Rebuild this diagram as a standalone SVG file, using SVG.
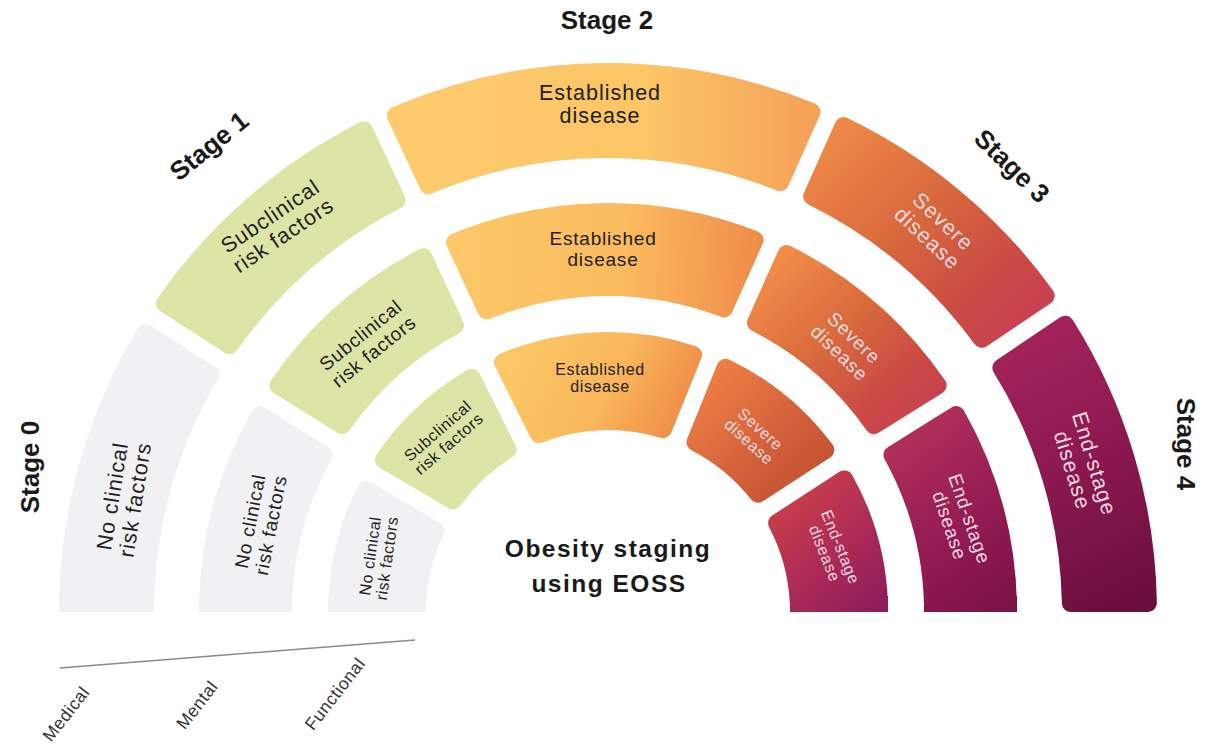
<svg xmlns="http://www.w3.org/2000/svg" width="1212" height="747" viewBox="0 0 1212 747">
<defs>
<linearGradient id="gEstO" gradientUnits="userSpaceOnUse" x1="400" y1="150" x2="815" y2="150"><stop offset="0" stop-color="#FDCB6E"/><stop offset="0.6" stop-color="#FCC566"/><stop offset="1" stop-color="#F5A158"/></linearGradient>
<linearGradient id="gEstM" gradientUnits="userSpaceOnUse" x1="455" y1="270" x2="760" y2="290"><stop offset="0" stop-color="#FCC869"/><stop offset="0.55" stop-color="#FBBB5E"/><stop offset="1" stop-color="#F08B49"/></linearGradient>
<linearGradient id="gEstI" gradientUnits="userSpaceOnUse" x1="520" y1="360" x2="690" y2="440"><stop offset="0" stop-color="#FCC666"/><stop offset="0.5" stop-color="#F9B65A"/><stop offset="1" stop-color="#EE8544"/></linearGradient>
<linearGradient id="gSevO" gradientUnits="userSpaceOnUse" x1="830" y1="120" x2="1040" y2="335"><stop offset="0" stop-color="#F18B48"/><stop offset="0.45" stop-color="#D7673C"/><stop offset="0.75" stop-color="#CB4A45"/><stop offset="1" stop-color="#C83D53"/></linearGradient>
<linearGradient id="gSevM" gradientUnits="userSpaceOnUse" x1="780" y1="260" x2="935" y2="420"><stop offset="0" stop-color="#F18B48"/><stop offset="0.45" stop-color="#D7673C"/><stop offset="0.75" stop-color="#CB4A45"/><stop offset="1" stop-color="#C83D53"/></linearGradient>
<linearGradient id="gSevI" gradientUnits="userSpaceOnUse" x1="700" y1="370" x2="820" y2="490"><stop offset="0" stop-color="#F08245"/><stop offset="0.6" stop-color="#D2603A"/><stop offset="1" stop-color="#C4502F"/></linearGradient>
<linearGradient id="gEndO" gradientUnits="userSpaceOnUse" x1="1020" y1="330" x2="1150" y2="600"><stop offset="0" stop-color="#A3245A"/><stop offset="0.5" stop-color="#8B1850"/><stop offset="1" stop-color="#6A0E3C"/></linearGradient>
<linearGradient id="gEndM" gradientUnits="userSpaceOnUse" x1="890" y1="440" x2="1015" y2="605"><stop offset="0" stop-color="#B2305A"/><stop offset="0.5" stop-color="#961C54"/><stop offset="1" stop-color="#7A1247"/></linearGradient>
<linearGradient id="gEndI" gradientUnits="userSpaceOnUse" x1="780" y1="490" x2="880" y2="605"><stop offset="0" stop-color="#CB4248"/><stop offset="0.5" stop-color="#B02C55"/><stop offset="1" stop-color="#8E1D5B"/></linearGradient>
</defs>
<style>
.seg { stroke-width:18; stroke-linejoin:round; }
.nc { fill:#F1F1F4; stroke:#F1F1F4; }
.ncr { fill:#F1F1F4; }
.sc { fill:#DDE5A6; stroke:#DDE5A6; }
text { font-family:"Liberation Sans", Arial, Helvetica, sans-serif; }
.lbl { text-anchor:middle; dominant-baseline:central; }
.dark { fill:#222222; }
.light { fill:#F9DDE3; }
.o { font-size:21.5px; letter-spacing:1px; }
.m { font-size:19px; letter-spacing:0.8px; }
.i { font-size:16px; letter-spacing:0.6px; }
.stage { font-size:26px; font-weight:bold; fill:#1A1A1A; text-anchor:middle; dominant-baseline:central; }
.title { font-size:24.5px; font-weight:bold; fill:#1A1A1A; text-anchor:middle; letter-spacing:1.5px; }
.axis { font-size:17.5px; fill:#333333; text-anchor:middle; dominant-baseline:central; letter-spacing:0.5px; }
</style>
<rect width="1212" height="747" fill="#FFFFFF"/>

<g id="stage-labels">
<text class="stage" transform="translate(30,467) rotate(-90)">Stage 0</text>
<text class="stage" transform="translate(209,146) rotate(-39)">Stage 1</text>
<text class="stage" transform="translate(607,20)">Stage 2</text>
<text class="stage" transform="translate(1012,166) rotate(44)">Stage 3</text>
<text class="stage" transform="translate(1186,444) rotate(90)">Stage 4</text>
</g>

<!-- Outer ring: Medical -->
<g id="outer-stage0">
<path class="seg nc" d="M68.1,603 A540,540 0 0 1 145.8,332.7 L210.4,374.7 A463,463 0 0 0 145.1,603 Z"/>
<rect class="ncr" x="59" y="596" width="95" height="16"/>
<text class="lbl dark o" transform="translate(124,498) rotate(-81)"><tspan x="0" y="-11.5">No clinical</tspan><tspan x="0" y="11.5">risk factors</tspan></text>
</g>
<g id="outer-stage1">
<path class="seg sc" d="M164.9,303.4 A540,540 0 0 1 364.0,130.2 L396.6,200.1 A463,463 0 0 0 229.5,345.3 Z"/>
<text class="lbl dark o" transform="translate(277,226) rotate(-34)"><tspan x="0" y="-11.5">Subclinical</tspan><tspan x="0" y="11.5">risk factors</tspan></text>
</g>
<g id="outer-stage2">
<path class="seg" style="fill:url(#gEstO);stroke:url(#gEstO)" d="M395.8,115.5 A540,540 0 0 1 811.5,111.8 L780.2,182.2 A463,463 0 0 0 428.3,185.3 Z"/>
<text class="lbl dark o" transform="translate(600,104)"><tspan x="0" y="-11.5">Established</tspan><tspan x="0" y="11.5">disease</tspan></text>
</g>
<g id="outer-stage3">
<path class="seg" style="fill:url(#gSevO);stroke:url(#gSevO)" d="M843.5,126.1 A540,540 0 0 1 1045.7,295.7 L981.8,338.8 A463,463 0 0 0 812.2,196.5 Z"/>
<text class="lbl light o" transform="translate(935,230) rotate(43)"><tspan x="0" y="-11.5">Severe</tspan><tspan x="0" y="11.5">disease</tspan></text>
</g>
<g id="outer-stage4">
<path class="seg" style="fill:url(#gEndO);stroke:url(#gEndO)" d="M1065.2,324.7 A540,540 0 0 1 1147.9,603 L1070.9,603 A463,463 0 0 0 1001.4,367.8 Z"/>
<text class="lbl light o" transform="translate(1083,467) rotate(73)"><tspan x="0" y="-11.5">End-stage</tspan><tspan x="0" y="11.5">disease</tspan></text>
</g>

<!-- Middle ring: Mental -->
<g id="middle-stage0">
<path class="seg nc" d="M208.1,603 A400,400 0 0 1 259.8,415.1 L323.5,454.9 A325,325 0 0 0 283.1,603 Z"/>
<rect class="ncr" x="199" y="596" width="93" height="16"/>
<text class="lbl dark m" transform="translate(260,523) rotate(-79)"><tspan x="0" y="-10.5">No clinical</tspan><tspan x="0" y="10.5">risk factors</tspan></text>
</g>
<g id="middle-stage1">
<path class="seg sc" d="M278.4,385.4 A400,400 0 0 1 423.3,257.2 L455.0,325.3 A325,325 0 0 0 342.1,425.2 Z"/>
<text class="lbl dark m" transform="translate(367,343) rotate(-39)"><tspan x="0" y="-10.5">Subclinical</tspan><tspan x="0" y="10.5">risk factors</tspan></text>
</g>
<g id="middle-stage2">
<path class="seg" style="fill:url(#gEstM);stroke:url(#gEstM)" d="M455.0,242.4 A400,400 0 0 1 754.6,239.8 L724.0,308.4 A325,325 0 0 0 486.7,310.5 Z"/>
<text class="lbl dark m" transform="translate(603,248)"><tspan x="0" y="-10.5">Established</tspan><tspan x="0" y="10.5">disease</tspan></text>
</g>
<g id="middle-stage3">
<path class="seg" style="fill:url(#gSevM);stroke:url(#gSevM)" d="M786.5,254.1 A400,400 0 0 1 937.6,385.4 L873.9,425.2 A325,325 0 0 0 756.0,322.7 Z"/>
<text class="lbl light m" transform="translate(847,345) rotate(44)"><tspan x="0" y="-10.5">Severe</tspan><tspan x="0" y="10.5">disease</tspan></text>
</g>
<g id="middle-stage4">
<path class="seg" style="fill:url(#gEndM);stroke:url(#gEndM)" d="M956.2,415.1 A400,400 0 0 1 1007.9,603 L932.9,603 A325,325 0 0 0 892.5,454.9 Z"/>
<rect x="924" y="596" width="93" height="16" style="fill:url(#gEndM)"/>
<text class="lbl light m" transform="translate(960,522) rotate(71)"><tspan x="0" y="-10.5">End-stage</tspan><tspan x="0" y="10.5">disease</tspan></text>
</g>

<!-- Inner ring: Functional -->
<g id="inner-stage0">
<path class="seg nc" d="M337.2,603 A271,271 0 0 1 366.1,489.8 L435.2,530.6 A191,191 0 0 0 417.2,603 Z"/>
<rect class="ncr" x="328" y="596" width="98" height="16"/>
<text class="lbl dark i" transform="translate(378,557) rotate(-82)"><tspan x="0" y="-8.5">No clinical</tspan><tspan x="0" y="8.5">risk factors</tspan></text>
</g>
<g id="inner-stage1">
<path class="seg sc" d="M383.9,459.7 A271,271 0 0 1 471.7,377.8 L507.5,449.6 A191,191 0 0 0 453.0,500.4 Z"/>
<text class="lbl dark i" transform="translate(443,437) rotate(-41)"><tspan x="0" y="-8.5">Subclinical</tspan><tspan x="0" y="8.5">risk factors</tspan></text>
</g>
<g id="inner-stage2">
<path class="seg" style="fill:url(#gEstI);stroke:url(#gEstI)" d="M503.0,362.2 A271,271 0 0 1 693.1,354.7 L663.0,429.1 A191,191 0 0 0 538.8,434.0 Z"/>
<text class="lbl dark i" transform="translate(600,377)"><tspan x="0" y="-8.5">Established</tspan><tspan x="0" y="8.5">disease</tspan></text>
</g>
<g id="inner-stage3">
<path class="seg" style="fill:url(#gSevI);stroke:url(#gSevI)" d="M725.5,367.8 A271,271 0 0 1 825.3,450.0 L758.0,493.7 A191,191 0 0 0 695.5,442.2 Z"/>
<text class="lbl light i" transform="translate(755,435) rotate(42)"><tspan x="0" y="-8.5">Severe</tspan><tspan x="0" y="8.5">disease</tspan></text>
</g>
<g id="inner-stage4">
<path class="seg" style="fill:url(#gEndI);stroke:url(#gEndI)" d="M844.3,479.4 A271,271 0 0 1 878.9,603 L798.8,603 A191,191 0 0 0 777.1,523.1 Z"/>
<rect x="790" y="596" width="98" height="16" style="fill:url(#gEndI)"/>
<text class="lbl light i" transform="translate(833,550) rotate(68)"><tspan x="0" y="-8.5">End-stage</tspan><tspan x="0" y="8.5">disease</tspan></text>
</g>

<g id="title">
<text class="title" x="608" y="557">Obesity staging</text>
<text class="title" x="609" y="592">using EOSS</text>
</g>

<g id="connectors">
<line x1="60" y1="668" x2="415" y2="640" stroke="#8A8A8A" stroke-width="1.6"/>
</g>

<g id="axis-labels">
<text class="axis" transform="translate(66,714) rotate(-52)">Medical</text>
<text class="axis" transform="translate(197,705) rotate(-52)">Mental</text>
<text class="axis" transform="translate(335,694) rotate(-52)">Functional</text>
</g>
</svg>
